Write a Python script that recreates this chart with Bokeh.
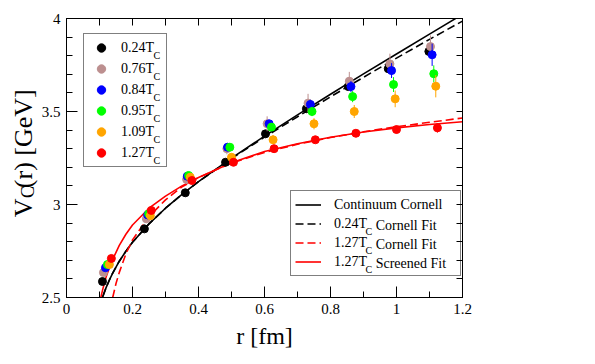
import numpy as np
from bokeh.plotting import figure
from bokeh.layouts import row
from bokeh.models import Range1d, FixedTicker, LinearAxis, Legend, LegendItem
from bokeh.core.properties import value
from bokeh.embed import file_html
from bokeh.resources import INLINE

SERIF = "Liberation Serif"

# ---------------- data ----------------
series_names = ["0.24T", "0.76T", "0.84T", "0.95T", "1.09T", "1.27T"]
series_colors = ["#000000", "#bc8f8f", "#0000ff", "#00ff00", "#ffa500", "#ff0000"]

r_024 = [0.109, 0.236, 0.360, 0.482, 0.603, 0.727, 0.854, 0.975, 1.098]
v_024 = [2.586, 2.869, 3.063, 3.227, 3.380, 3.515, 3.634, 3.730, 3.823]
e_024 = [0.005, 0.006, 0.006, 0.007, 0.008, 0.010, 0.012, 0.015, 0.020]

r_076 = [0.112, 0.242, 0.364, 0.486, 0.608, 0.732, 0.857, 0.980, 1.103]
v_076 = [2.634, 2.923, 3.135, 3.300, 3.434, 3.545, 3.663, 3.756, 3.849]
e_076 = [0.015, 0.020, 0.025, 0.030, 0.040, 0.050, 0.050, 0.055, 0.060]

r_084 = [0.118, 0.246, 0.366, 0.488, 0.614, 0.739, 0.862, 0.985, 1.108]
v_084 = [2.660, 2.944, 3.152, 3.308, 3.434, 3.538, 3.634, 3.720, 3.805]
e_084 = [0.010, 0.010, 0.015, 0.015, 0.020, 0.025, 0.030, 0.040, 0.060]

r_095 = [0.124, 0.249, 0.370, 0.495, 0.621, 0.744, 0.867, 0.991, 1.113]
v_095 = [2.677, 2.950, 3.156, 3.308, 3.416, 3.500, 3.580, 3.645, 3.703]
e_095 = [0.010, 0.012, 0.015, 0.015, 0.020, 0.025, 0.030, 0.040, 0.045]

r_109 = [0.130, 0.254, 0.375, 0.500, 0.626, 0.750, 0.872, 0.996, 1.119]
v_109 = [2.677, 2.940, 3.147, 3.254, 3.348, 3.434, 3.500, 3.568, 3.636]
e_109 = [0.010, 0.015, 0.020, 0.020, 0.025, 0.030, 0.035, 0.045, 0.060]

r_127 = [0.136, 0.257, 0.380, 0.506, 0.629, 0.754, 0.877, 1.000, 1.124]
v_127 = [2.710, 2.968, 3.129, 3.227, 3.300, 3.348, 3.383, 3.403, 3.412]
e_127 = [0.010, 0.010, 0.010, 0.012, 0.012, 0.015, 0.018, 0.020, 0.025]

# curves
cont_r = [0.109, 0.12, 0.13, 0.14, 0.16, 0.18, 0.2, 0.25, 0.3, 0.35, 0.4, 0.5,
          0.6, 0.7, 0.8, 0.9, 1.0, 1.1, 1.18]
cont_v = [2.500, 2.553, 2.594, 2.631, 2.695, 2.749, 2.797, 2.896, 2.980, 3.054,
          3.123, 3.249, 3.368, 3.482, 3.593, 3.702, 3.809, 3.916, 4.001]

fit024_r = [0.110, 0.12, 0.13, 0.14, 0.16, 0.18, 0.2, 0.25, 0.3, 0.35, 0.4, 0.5,
            0.6, 0.7, 0.8, 0.9, 1.0, 1.1, 1.2]
fit024_v = [2.505, 2.553, 2.594, 2.631, 2.695, 2.749, 2.797, 2.896, 2.980, 3.054,
            3.123, 3.247, 3.362, 3.472, 3.579, 3.684, 3.787, 3.888, 3.986]

fit127_r = [0.140, 0.15, 0.16, 0.18, 0.2, 0.25, 0.3, 0.35, 0.4, 0.5, 0.6, 0.7,
            0.8, 0.9, 1.0, 1.1, 1.2]
fit127_v = [2.500, 2.575, 2.635, 2.735, 2.810, 2.935, 3.025, 3.095, 3.145, 3.223,
            3.280, 3.324, 3.360, 3.391, 3.418, 3.442, 3.465]

scr127_r = [0.104, 0.11, 0.12, 0.13, 0.14, 0.16, 0.18, 0.2, 0.25, 0.3, 0.35, 0.4,
            0.5, 0.6, 0.7, 0.8, 0.9, 1.0, 1.1, 1.2]
scr127_v = [2.500, 2.545, 2.610, 2.660, 2.705, 2.780, 2.840, 2.890, 2.980, 3.045,
            3.100, 3.145, 3.225, 3.285, 3.327, 3.362, 3.390, 3.412, 3.430, 3.445]

line_names = ["Continuum Cornell", "0.24T", "1.27T", "1.27T"]
line_tails = ["", "Cornell Fit", "Cornell Fit", "Screened Fit"]

x_ticks = [0, 0.2, 0.4, 0.6, 0.8, 1.0, 1.2]
x_tick_labels = ["0", "0.2", "0.4", "0.6", "0.8", "1", "1.2"]
x_minor = [0.1, 0.3, 0.5, 0.7, 0.9, 1.1]
y_ticks = [2.5, 3.0, 3.5, 4.0]
y_tick_labels = ["2.5", "3", "3.5", "4"]
y_minor = [2.6, 2.7, 2.8, 2.9, 3.1, 3.2, 3.3, 3.4, 3.6, 3.7, 3.8, 3.9]

y_title_parts = ["V", "C", "(r) [GeV]"]

# ---------------- geometry (page px) ----------------
X0, X1, Y0, Y1 = 0.0, 1.2, 2.5, 4.0
SIDE_W = 38                        # narrow figure holding the y title
FL, FT, FW, FH = 64, 18, 398, 279  # frame left/top/width/height in page px
CW, CH = 587, 356

p = figure(width=CW - SIDE_W, height=CH, output_backend="svg", toolbar_location=None,
           x_range=Range1d(X0, X1), y_range=Range1d(Y0, Y1),
           min_border_left=FL - SIDE_W, min_border_right=CW - FL - FW,
           min_border_top=FT, min_border_bottom=CH - FT - FH)
p.xgrid.visible = False
p.ygrid.visible = False
p.outline_line_color = "black"
p.background_fill_color = "white"
p.border_fill_color = "white"


def dx(px):   # page px -> data x
    return X0 + (px - FL) * (X1 - X0) / FW


def dy(py):   # page px -> data y
    return Y0 + (FT + FH - py) * (Y1 - Y0) / FH


def style_axis(ax, major_in, minor_in):
    ax.axis_line_color = "black"
    ax.major_tick_line_color = "black"
    ax.minor_tick_line_color = "black"
    ax.major_tick_in = major_in
    ax.major_tick_out = 0
    ax.minor_tick_in = minor_in
    ax.minor_tick_out = 0
    ax.major_label_text_font = SERIF
    ax.major_label_text_font_size = "15px"
    ax.major_label_text_color = "black"


xa = p.xaxis[0]
xa.ticker = FixedTicker(ticks=x_ticks, minor_ticks=x_minor)
xa.major_label_overrides = {t: s for t, s in zip(x_ticks, x_tick_labels)}
style_axis(xa, 11, 6)
xa.major_label_standoff = 6
xa.axis_label = "r [fm]"
xa.axis_label_text_font = SERIF
xa.axis_label_text_font_size = "24px"
xa.axis_label_text_font_style = "normal"
xa.axis_label_text_color = "black"
xa.axis_label_standoff = 6

ya = p.yaxis[0]
ya.ticker = FixedTicker(ticks=y_ticks, minor_ticks=y_minor)
ya.major_label_overrides = {t: s for t, s in zip(y_ticks, y_tick_labels)}
style_axis(ya, 11, 6)
ya.major_label_standoff = 6

# mirrored tick marks (no labels): every tick given as a minor tick
top_ax = LinearAxis(ticker=FixedTicker(ticks=[], minor_ticks=sorted(x_ticks + x_minor)))
style_axis(top_ax, 7, 7)
top_ax.major_label_standoff = 0
p.add_layout(top_ax, "above")
right_ax = LinearAxis(ticker=FixedTicker(ticks=[], minor_ticks=sorted(y_ticks + y_minor)))
style_axis(right_ax, 6, 6)
right_ax.major_label_standoff = 0
p.add_layout(right_ax, "right")

# ---------------- curves ----------------
l_cont = p.line(cont_r, cont_v, line_color="black", line_width=1.6)
l_fit024 = p.line(fit024_r, fit024_v, line_color="black", line_width=1.6, line_dash="8 4")
l_fit127 = p.line(fit127_r, fit127_v, line_color="#ff0000", line_width=1.6, line_dash="8 4")
l_scr127 = p.line(scr127_r, scr127_v, line_color="#ff0000", line_width=1.6)

# ---------------- points with error bars ----------------
all_r = [r_024, r_076, r_084, r_095, r_109, r_127]
all_v = [v_024, v_076, v_084, v_095, v_109, v_127]
all_e = [e_024, e_076, e_084, e_095, e_109, e_127]
scatter_rs = []
for rr, vv, ee, col in zip(all_r, all_v, all_e, series_colors):
    vv = np.asarray(vv)
    ee = np.asarray(ee)
    p.segment(x0=rr, y0=vv - ee, x1=rr, y1=vv + ee, line_color=col, line_width=1)
    scatter_rs.append(p.scatter(rr, vv, size=8, fill_color=col, line_color=col))

# ---------------- legends ----------------
LEG_FONT = 14
L1_LEFT, L1_BOTTOM, L1_PAD, L1_ROW, L1_GW, L1_SO = 17, 130, 3, 21, 28, 6
L2_LEFT, L2_BOTTOM, L2_PAD, L2_ROW, L2_GW, L2_SO = 224, 21, 4, 19, 26, 13

# legend row centres (page px)
l1_top = FT + FH - L1_BOTTOM - (2 * L1_PAD + L1_ROW * len(series_names))
l1_rows = [l1_top + L1_PAD + L1_ROW / 2 + L1_ROW * i for i in range(len(series_names))]
l2_top = FT + FH - L2_BOTTOM - (2 * L2_PAD + L2_ROW * len(line_names))
l2_rows = [l2_top + L2_PAD + L2_ROW / 2 + L2_ROW * i for i in range(len(line_names))]

l1_text_x = FL + L1_LEFT + L1_PAD + L1_GW + L1_SO
l2_text_x = FL + L2_LEFT + L2_PAD + L2_GW + L2_SO
W_T = 2.361 * LEG_FONT     # width of "0.24T"
W_C = 0.667 * 10           # width of subscript "C"

# subscripts "C" and the text after them (glyph level; legends are transparent)
sub_x = [dx(l1_text_x + W_T + 0.5)] * len(l1_rows) + [dx(l2_text_x + W_T + 0.5)] * (len(l2_rows) - 1)
sub_y = [dy(yc + 6) for yc in l1_rows] + [dy(yc + 6) for yc in l2_rows[1:]]
p.text(x=sub_x, y=sub_y, text=["C"] * len(sub_x), text_font=value(SERIF),
       text_font_size=value("10px"), text_baseline="middle", text_align="left",
       text_color="black")
tail_x = [dx(l2_text_x + W_T + W_C + 4)] * (len(l2_rows) - 1)
tail_y = [dy(yc) for yc in l2_rows[1:]]
p.text(x=tail_x, y=tail_y, text=line_tails[1:], text_font=value(SERIF),
       text_font_size=value(f"{LEG_FONT}px"), text_baseline="middle", text_align="left",
       text_color="black")

leg1 = Legend(items=[LegendItem(label=n, renderers=[r]) for n, r in zip(series_names, scatter_rs)],
              location=(L1_LEFT, L1_BOTTOM), orientation="vertical", padding=L1_PAD,
              spacing=0, margin=0, glyph_width=L1_GW, glyph_height=L1_ROW,
              label_height=L1_ROW, label_width=42, label_standoff=L1_SO,
              label_text_font=SERIF, label_text_font_size=f"{LEG_FONT}px",
              label_text_color="black",
              border_line_color="black", border_line_width=1, background_fill_alpha=0)
p.add_layout(leg1)

line_rs = [l_cont, l_fit024, l_fit127, l_scr127]
leg2 = Legend(items=[LegendItem(label=n, renderers=[r]) for n, r in zip(line_names, line_rs)],
              location=(L2_LEFT, L2_BOTTOM), orientation="vertical", padding=L2_PAD,
              spacing=0, margin=0, glyph_width=L2_GW, glyph_height=L2_ROW,
              label_height=L2_ROW, label_width=122, label_standoff=L2_SO,
              label_text_font=SERIF, label_text_font_size=f"{LEG_FONT}px",
              label_text_color="black",
              border_line_color="black", border_line_width=1, background_fill_alpha=0)
p.add_layout(leg2)

# ---------------- side figure with the rotated y title ----------------
side = figure(width=SIDE_W, height=CH, output_backend="svg", toolbar_location=None,
              x_range=Range1d(0, SIDE_W), y_range=Range1d(0, CH),
              x_axis_type=None, y_axis_type=None,
              min_border_left=0, min_border_right=0, min_border_top=0, min_border_bottom=0)
side.grid.visible = False
side.outline_line_color = None
side.background_fill_color = "white"
side.border_fill_color = "white"

TITLE_PX = 26
SUB_PX = 18
c_start = 229          # page y where the subscript C begins (its lower end)
w_c = 0.667 * SUB_PX
side.text(x=[23], y=[CH - c_start - 0.5], text=[y_title_parts[0]], angle=np.pi / 2,
          text_font=value(SERIF), text_font_size=value(f"{TITLE_PX}px"),
          text_baseline="alphabetic", text_align="right", text_color="black")
side.text(x=[27], y=[CH - c_start], text=[y_title_parts[1]], angle=np.pi / 2,
          text_font=value(SERIF), text_font_size=value(f"{SUB_PX}px"),
          text_baseline="alphabetic", text_align="left", text_color="black")
side.text(x=[23], y=[CH - c_start + w_c + 0.5], text=[y_title_parts[2]], angle=np.pi / 2,
          text_font=value(SERIF), text_font_size=value(f"{TITLE_PX}px"),
          text_baseline="alphabetic", text_align="left", text_color="black")

layout = row(side, p, spacing=0)
open("out.html", "w").write(file_html(layout, INLINE))
